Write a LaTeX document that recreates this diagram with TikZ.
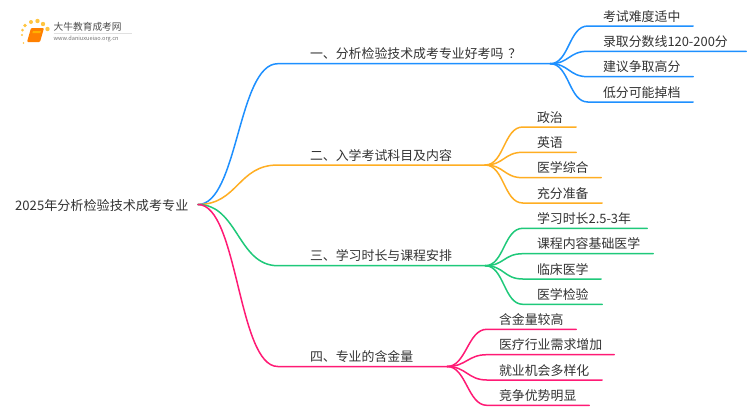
\documentclass[tikz,border=0pt]{standalone}
\usepackage{fontspec}
\setmainfont{Noto Sans CJK SC}
\usetikzlibrary{calc}
\definecolor{cblue}{HTML}{1E90FF}
\definecolor{corange}{HTML}{FFAE22}
\definecolor{cgreen}{HTML}{1FC97A}
\definecolor{cpink}{HTML}{FF1A75}
\definecolor{ctext}{HTML}{333333}
\tikzset{
  x=1pt,y=-1pt,
  lab/.style={inner xsep=0,inner ysep=3.5pt,anchor=south,align=left,font=\fontsize{12.9}{15}\selectfont,text=ctext},
  wire/.style={line width=1.5pt,line cap=round},
}
% \branch{name}{parent}{colour}{left}{right}{y}{text offset}{text}{bend}
\newcommand{\branch}[9]{%
  \pgfmathsetmacro{\brwidth}{#5-#4}
  \node[lab,text width=\brwidth pt] (#1) at ({(#4+#5)/2},#6) {\hspace*{#7pt}#8};
  \draw[wire,#3] (#2) .. controls +(#9,0) and ($(#1.south west)+(-#9,0)$) .. (#1.south west) -- (#1.south east);
}
\begin{document}
\begin{tikzpicture}
\useasboundingbox (0,0) rectangle (750,410);
\fill[white] (0,0) rectangle (750,410);
% logo
\foreach \a/\b/\r in {23.5/43/.8,22/35/1.2,22.5/30/1.5,25/25.5/1.8,31/22/2,37.5/21/2.2,43/24/2.2,47.5/29/2.2}{\fill[orange!60!yellow,opacity=.75] (\a,\b) circle (\r);}
\fill[orange,rounded corners=1pt] (31,28) -- (44,28) -- (40,42) -- (27,42) -- cycle;
\fill[orange!60!yellow] (33,31) -- (41,31) -- (40.3,33) -- (32.4,33) -- cycle;
\node[inner sep=0,anchor=west,font=\fontsize{9.7}{10}\selectfont,text=black!70] (logot) at (53.5,27) {大牛教育成考网};
\node[inner sep=0,anchor=west,font=\fontsize{5.6}{6}\selectfont,text=black!55] (logou) at (53.5,39) {www.daniuxueiao.org.cn};
\draw[black!12,line width=.5pt] (logot.south west)+(0,1.5) -- +(78,1.5);
% root
\node[inner sep=0,anchor=west,font=\fontsize{13.1}{15}\selectfont,text=ctext] (root) at (15,205.5) {2025年分析检验技术成考专业};
\coordinate (r) at (198,204.5);
\branch{a}{r}{cblue}{278}{550}{63.7}{32}{一、分析检验技术成考专业好考吗\kern5pt？}{40}
\branch{b}{r}{corange}{278}{485}{165}{32}{二、入学考试科目及内容}{40}
\branch{c}{r}{cgreen}{278}{485}{265.7}{32}{三、学习时长与课程安排}{40}
\branch{d}{r}{cpink}{278}{447}{366.5}{32}{四、专业的含金量}{40}
\coordinate (ae) at (a.south east);
\coordinate (be) at (b.south east);
\coordinate (ce) at (c.south east);
\coordinate (de) at (d.south east);
\branch{a1}{ae}{cblue}{588}{693}{26}{15}{考试难度适中}{19}
\branch{a2}{ae}{cblue}{588}{746}{51.3}{15}{录取分数线120-200分}{19}
\branch{a3}{ae}{cblue}{588}{693}{76.7}{15}{建议争取高分}{19}
\branch{a4}{ae}{cblue}{588}{693}{102}{15}{低分可能掉档}{19}
\branch{b1}{be}{corange}{523}{576}{127}{14}{政治}{19}
\branch{b2}{be}{corange}{523}{576}{152.3}{14}{英语}{19}
\branch{b3}{be}{corange}{523}{601}{177.7}{14}{医学综合}{19}
\branch{b4}{be}{corange}{523}{602}{203}{14}{充分准备}{19}
\branch{c1}{ce}{cgreen}{523}{647}{228.3}{14}{学习时长2.5-3年}{19}
\branch{c2}{ce}{cgreen}{523}{653}{253.7}{14}{课程内容基础医学}{19}
\branch{c3}{ce}{cgreen}{523}{601}{279}{14}{临床医学}{19}
\branch{c4}{ce}{cgreen}{523}{602}{304.3}{14}{医学检验}{19}
\branch{d1}{de}{cpink}{487}{576}{329.3}{12}{含金量较高}{19}
\branch{d2}{de}{cpink}{487}{614}{354.7}{12}{医疗行业需求增加}{19}
\branch{d3}{de}{cpink}{487}{602}{380}{12}{就业机会多样化}{19}
\branch{d4}{de}{cpink}{487}{589}{405.3}{12}{竞争优势明显}{19}
\end{tikzpicture}
\end{document}
